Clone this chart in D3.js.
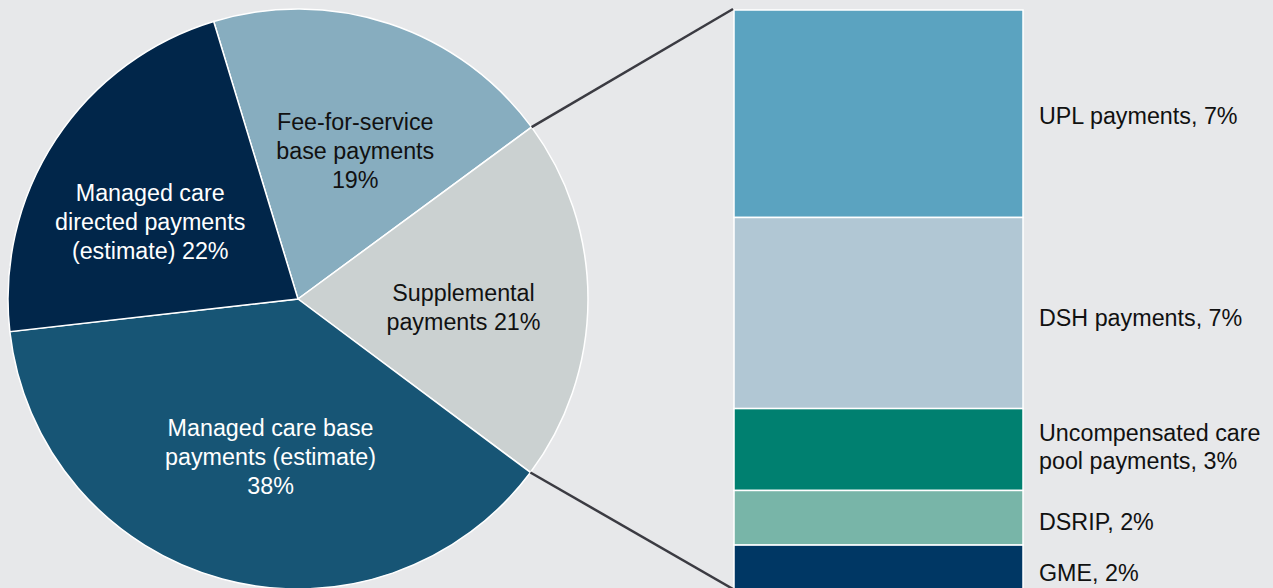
<!DOCTYPE html>
<html><head><meta charset="utf-8">
<script src="https://cdn.jsdelivr.net/npm/d3@7"></script>
<style>
html,body{margin:0;padding:0;background:#e7e8ea;overflow:hidden;}
svg{display:block;font-family:"Liberation Sans",Arial,sans-serif;}
</style></head>
<body>
<svg id="chart" width="1273" height="588"></svg>
<script>
// Pie data (clockwise from FFS)
const pieLabels = [
  ["Fee-for-service","base payments","19%"],
  ["Supplemental","payments 21%"],
  ["Managed care base","payments (estimate)","38%"],
  ["Managed care","directed payments","(estimate) 22%"]
];
const pieValues = [19.6, 20.3, 38.0, 22.1];
const pieColors = ["#87adbf","#cbd1d1","#175575","#01264a"];
const pieTextColors = ["#111","#111","#fff","#fff"];

// Breakdown of supplemental payments
const barLabels = [
  ["UPL payments, 7%"],
  ["DSH payments, 7%"],
  ["Uncompensated care","pool payments, 3%"],
  ["DSRIP, 2%"],
  ["GME, 2%"]
];
const barValues = [7.6, 7.0, 3.0, 2.0, 2.0];
const barColors = ["#5ba3c0","#b1c7d4","#008070","#78b5a8","#003764"];

const svg = d3.select("#chart");
const cx = 298, cy = 299, R = 290;
const startA = -16.9 * Math.PI/180;
const fs = 23.3;

const pie = d3.pie().sort(null).value(d=>d)
  .startAngle(startA).endAngle(startA + 2*Math.PI);
const arcs = pie(pieValues);
const arc = d3.arc().innerRadius(0).outerRadius(R);
const labelArc = d3.arc().innerRadius(0).outerRadius(325);

const g = svg.append("g").attr("transform",`translate(${cx},${cy})`);
g.selectAll("path").data(arcs).join("path")
  .attr("d", arc)
  .attr("fill",(d,i)=>pieColors[i])
  .attr("stroke","#fff").attr("stroke-width",1.5);

const lh = 29;
const labelOffsets = [[6,6],[3,8],[15,1],[-12,12]];
arcs.forEach((a,i)=>{
  const [x,y] = labelArc.centroid(a);
  const lines = pieLabels[i];
  const t = g.append("text")
    .attr("text-anchor","middle")
    .attr("font-size",fs)
    .attr("fill",pieTextColors[i]);
  lines.forEach((ln,j)=>{
    t.append("tspan")
      .attr("x", x + labelOffsets[i][0])
      .attr("y", y + labelOffsets[i][1] + (j - (lines.length-1)/2)*lh)
      .attr("dy","0.35em")
      .text(ln);
  });
});

// Bar stack
const barX = 734, barW = 289;
const total = d3.sum(barValues);
const y = d3.scaleLinear().domain([0,total]).range([10, 10 + total*27.3]);
const cum = [];
barValues.reduce((acc,v)=>{cum.push(acc); return acc+v;},0);

svg.selectAll("rect.seg").data(barValues).join("rect")
  .attr("class","seg")
  .attr("x",barX).attr("width",barW)
  .attr("y",(d,i)=>y(cum[i]))
  .attr("height",(d,i)=>y(cum[i]+d)-y(cum[i]))
  .attr("fill",(d,i)=>barColors[i])
  .attr("stroke","#fff").attr("stroke-width",1.5);

const barLabelDy = [2, 5, -3, 4, 0];
barValues.forEach((v,i)=>{
  const mid = (y(cum[i]) + y(cum[i]+v))/2;
  const lines = barLabels[i];
  const t = svg.append("text").attr("font-size",fs).attr("fill","#111");
  const yc = mid + barLabelDy[i];
  lines.forEach((ln,j)=>{
    t.append("tspan").attr("x",1039)
      .attr("y", yc + (j-(lines.length-1)/2)*28)
      .attr("dy","0.35em").text(ln);
  });
});

// Connector lines from supplemental slice edges to bar
const supp = arcs[1];
const pt = a => [cx + R*Math.sin(a), cy - R*Math.cos(a)];
const p1 = pt(supp.startAngle), p2 = pt(supp.endAngle);
svg.append("line").attr("x1",p1[0]).attr("y1",p1[1])
  .attr("x2",barX-1).attr("y2",cy-R)
  .attr("stroke","#3b3b42").attr("stroke-width",2.5);
svg.append("line").attr("x1",p2[0]).attr("y1",p2[1])
  .attr("x2",barX-1).attr("y2",cy+R)
  .attr("stroke","#3b3b42").attr("stroke-width",2.5);
</script>
</body></html>
